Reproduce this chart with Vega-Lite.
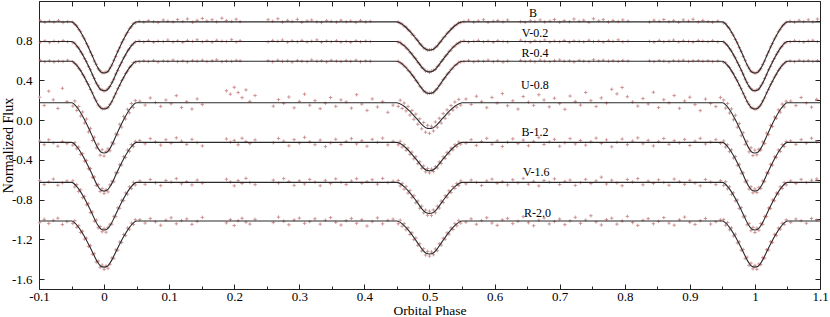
{
"$schema": "https://vega.github.io/schema/vega-lite/v6.json",
"width": 781, "height": 288,
"autosize": {"type": "none"},
"padding": {"left": 39, "top": 1, "right": 10, "bottom": 28},
"background": "#ffffff",
"config": {"view": {"stroke": "#222222", "strokeWidth": 1}, "font": "Liberation Serif",
 "text": {"font": "Liberation Serif"},
 "axis": {"labelFont": "Liberation Serif", "titleFont": "Liberation Serif", "labelColor": "#000000", "titleColor": "#000000", "titleFontWeight": "normal", "tickColor": "#222222", "grid": false, "domain": false, "labelFlush": false, "labelOverlap": false}},
"datasets": {
"clean": [
{"x":-0.098,"b":1.001,"v":0.786,"r":0.6},{"x":-0.091,"b":0.985,"v":0.798,"r":0.589},{"x":-0.084,"b":0.997,"v":0.781,"r":0.597},{"x":-0.077,"b":0.988,"v":0.795,"r":0.586},{"x":-0.07,"b":1.004,"v":0.789,"r":0.595},{"x":-0.063,"b":0.983,"v":0.801,"r":0.591},{"x":-0.056,"b":0.993,"v":0.79,"r":0.603},
{"x":-0.048,"b":0.986,"v":0.781,"r":0.589},{"x":-0.045,"b":0.965,"v":0.775,"r":0.571},{"x":-0.042,"b":0.949,"v":0.744,"r":0.556},{"x":-0.039,"b":0.914,"v":0.727,"r":0.523},{"x":-0.036,"b":0.891,"v":0.689,"r":0.502},{"x":-0.033,"b":0.848,"v":0.663,"r":0.461},{"x":-0.03,"b":0.819,"v":0.62,"r":0.434},{"x":-0.027,"b":0.771,"v":0.589,"r":0.389},{"x":-0.024,"b":0.738,"v":0.541,"r":0.358},{"x":-0.021,"b":0.686,"v":0.508,"r":0.309},{"x":-0.018,"b":0.649,"v":0.456,"r":0.275},{"x":-0.015,"b":0.595,"v":0.42,"r":0.224},{"x":-0.012,"b":0.562,"v":0.373,"r":0.194},{"x":-0.009,"b":0.518,"v":0.347,"r":0.152},{"x":-0.006,"b":0.499,"v":0.312,"r":0.134},{"x":-0.003,"b":0.477,"v":0.307,"r":0.114},{"x":0,"b":0.479,"v":0.293,"r":0.116},{"x":0.003,"b":0.485,"v":0.299,"r":0.122},{"x":0.006,"b":0.491,"v":0.32,"r":0.126},{"x":0.009,"b":0.526,"v":0.339,"r":0.16},{"x":0.012,"b":0.554,"v":0.381,"r":0.186},{"x":0.015,"b":0.603,"v":0.412,"r":0.232},{"x":0.018,"b":0.641,"v":0.464,"r":0.267},{"x":0.021,"b":0.694,"v":0.5,"r":0.317},{"x":0.024,"b":0.73,"v":0.549,"r":0.35},{"x":0.027,"b":0.779,"v":0.581,"r":0.397},{"x":0.03,"b":0.811,"v":0.628,"r":0.426},{"x":0.033,"b":0.856,"v":0.655,"r":0.469},{"x":0.036,"b":0.883,"v":0.697,"r":0.494},{"x":0.039,"b":0.922,"v":0.719,"r":0.531},{"x":0.042,"b":0.941,"v":0.752,"r":0.548},{"x":0.045,"b":0.973,"v":0.768,"r":0.579},{"x":0.048,"b":0.978,"v":0.788,"r":0.583},
{"x":0.054,"b":0.995,"v":0.797,"r":0.589},{"x":0.061,"b":0.987,"v":0.788,"r":0.598},{"x":0.068,"b":1.002,"v":0.801,"r":0.592},{"x":0.076,"b":0.991,"v":0.784,"r":0.601},{"x":0.083,"b":0.984,"v":0.795,"r":0.587},{"x":0.091,"b":1.008,"v":0.791,"r":0.596},{"x":0.098,"b":0.996,"v":0.806,"r":0.593},{"x":0.106,"b":0.989,"v":0.787,"r":0.605},{"x":0.113,"b":1.013,"v":0.798,"r":0.59},{"x":0.121,"b":0.993,"v":0.783,"r":0.597},{"x":0.128,"b":1.019,"v":0.802,"r":0.586},{"x":0.136,"b":0.986,"v":0.793,"r":0.6},{"x":0.143,"b":1.005,"v":0.809,"r":0.594},{"x":0.151,"b":1.024,"v":0.789,"r":0.603},{"x":0.158,"b":0.998,"v":0.799,"r":0.591},{"x":0.166,"b":1.011,"v":0.786,"r":0.598},{"x":0.173,"b":0.99,"v":0.804,"r":0.607},{"x":0.181,"b":1.027,"v":0.795,"r":0.589},{"x":0.188,"b":1.003,"v":0.792,"r":0.596},{"x":0.196,"b":0.994,"v":0.81,"r":0.592},{"x":0.203,"b":1.016,"v":0.788,"r":0.602},{"x":0.209,"b":0.992,"v":0.8,"r":0.597},
{"x":0.252,"b":1.012,"v":0.789,"r":0.599},{"x":0.259,"b":0.996,"v":0.801,"r":0.588},{"x":0.267,"b":1.021,"v":0.794,"r":0.603},{"x":0.274,"b":0.988,"v":0.806,"r":0.592},{"x":0.282,"b":1.004,"v":0.785,"r":0.597},{"x":0.289,"b":0.993,"v":0.798,"r":0.585},{"x":0.297,"b":1.015,"v":0.79,"r":0.601},{"x":0.304,"b":0.985,"v":0.803,"r":0.594},{"x":0.312,"b":0.999,"v":0.787,"r":0.59},{"x":0.319,"b":1.008,"v":0.795,"r":0.606},{"x":0.327,"b":0.99,"v":0.808,"r":0.593},{"x":0.334,"b":0.983,"v":0.784,"r":0.598},{"x":0.342,"b":1.002,"v":0.797,"r":0.587},{"x":0.349,"b":0.994,"v":0.791,"r":0.602},{"x":0.357,"b":0.987,"v":0.8,"r":0.595},{"x":0.364,"b":1.006,"v":0.786,"r":0.59},{"x":0.372,"b":0.991,"v":0.794,"r":0.599},{"x":0.379,"b":0.998,"v":0.783,"r":0.592},{"x":0.387,"b":0.984,"v":0.799,"r":0.604},{"x":0.394,"b":1.003,"v":0.789,"r":0.588},{"x":0.402,"b":0.989,"v":0.796,"r":0.596},{"x":0.409,"b":0.995,"v":0.792,"r":0.593},
{"x":0.452,"b":0.988,"v":0.784,"r":0.592},{"x":0.455,"b":0.975,"v":0.783,"r":0.578},{"x":0.458,"b":0.969,"v":0.761,"r":0.568},{"x":0.461,"b":0.946,"v":0.752,"r":0.545},{"x":0.464,"b":0.937,"v":0.727,"r":0.532},{"x":0.467,"b":0.91,"v":0.713,"r":0.503},{"x":0.47,"b":0.897,"v":0.684,"r":0.487},{"x":0.473,"b":0.867,"v":0.668,"r":0.455},{"x":0.476,"b":0.852,"v":0.636,"r":0.436},{"x":0.479,"b":0.82,"v":0.618,"r":0.4},{"x":0.482,"b":0.803,"v":0.583,"r":0.38},{"x":0.485,"b":0.769,"v":0.563,"r":0.342},{"x":0.488,"b":0.755,"v":0.532,"r":0.325},{"x":0.491,"b":0.727,"v":0.518,"r":0.294},{"x":0.494,"b":0.72,"v":0.494,"r":0.284},{"x":0.497,"b":0.704,"v":0.493,"r":0.268},{"x":0.5,"b":0.709,"v":0.482,"r":0.272},{"x":0.503,"b":0.711,"v":0.494,"r":0.275},{"x":0.506,"b":0.712,"v":0.502,"r":0.276},{"x":0.509,"b":0.735,"v":0.51,"r":0.302},{"x":0.512,"b":0.747,"v":0.54,"r":0.317},{"x":0.515,"b":0.777,"v":0.555,"r":0.35},{"x":0.518,"b":0.795,"v":0.591,"r":0.372},{"x":0.521,"b":0.828,"v":0.61,"r":0.408},{"x":0.524,"b":0.844,"v":0.644,"r":0.428},{"x":0.527,"b":0.875,"v":0.66,"r":0.462},{"x":0.53,"b":0.889,"v":0.692,"r":0.479},{"x":0.533,"b":0.918,"v":0.706,"r":0.511},{"x":0.536,"b":0.929,"v":0.735,"r":0.525},{"x":0.539,"b":0.954,"v":0.745,"r":0.552},{"x":0.542,"b":0.961,"v":0.769,"r":0.561},{"x":0.545,"b":0.983,"v":0.776,"r":0.585},{"x":0.548,"b":0.981,"v":0.791,"r":0.586},
{"x":0.553,"b":0.993,"v":0.798,"r":0.591},{"x":0.56,"b":1.006,"v":0.786,"r":0.6},{"x":0.568,"b":0.987,"v":0.794,"r":0.587},{"x":0.575,"b":0.999,"v":0.803,"r":0.596},{"x":0.583,"b":1.011,"v":0.789,"r":0.593},{"x":0.59,"b":0.984,"v":0.797,"r":0.604},{"x":0.598,"b":0.996,"v":0.784,"r":0.589},{"x":0.605,"b":1.003,"v":0.8,"r":0.598},{"x":0.613,"b":0.989,"v":0.792,"r":0.585},{"x":0.62,"b":1.008,"v":0.788,"r":0.595},{"x":0.64,"b":0.992,"v":0.805,"r":0.601},{"x":0.647,"b":0.985,"v":0.791,"r":0.592},{"x":0.655,"b":1.001,"v":0.784,"r":0.597},{"x":0.662,"b":0.994,"v":0.799,"r":0.588},{"x":0.67,"b":1.009,"v":0.793,"r":0.603},{"x":0.677,"b":0.988,"v":0.807,"r":0.594},{"x":0.685,"b":0.997,"v":0.787,"r":0.59},{"x":0.692,"b":1.014,"v":0.796,"r":0.599},{"x":0.7,"b":0.986,"v":0.79,"r":0.606},{"x":0.707,"b":1.002,"v":0.802,"r":0.593},{"x":0.715,"b":0.991,"v":0.785,"r":0.597},{"x":0.722,"b":1.018,"v":0.798,"r":0.586},{"x":0.73,"b":0.995,"v":0.794,"r":0.602},{"x":0.737,"b":1.006,"v":0.788,"r":0.595},{"x":0.745,"b":0.984,"v":0.804,"r":0.591},{"x":0.752,"b":1.021,"v":0.791,"r":0.608},{"x":0.76,"b":0.999,"v":0.797,"r":0.597},{"x":0.767,"b":1.012,"v":0.786,"r":0.603},{"x":0.775,"b":0.988,"v":0.801,"r":0.594},{"x":0.782,"b":1.004,"v":0.793,"r":0.599},{"x":0.79,"b":0.993,"v":0.808,"r":0.592},{"x":0.797,"b":1.009,"v":0.789,"r":0.601},{"x":0.805,"b":0.997,"v":0.795,"r":0.596},
{"x":0.838,"b":0.988,"v":0.794,"r":0.597},{"x":0.845,"b":1.007,"v":0.786,"r":0.59},{"x":0.853,"b":0.995,"v":0.803,"r":0.601},{"x":0.86,"b":1.013,"v":0.79,"r":0.594},{"x":0.868,"b":0.991,"v":0.797,"r":0.588},{"x":0.875,"b":1.002,"v":0.806,"r":0.599},{"x":0.883,"b":0.985,"v":0.788,"r":0.595},{"x":0.89,"b":1.009,"v":0.799,"r":0.603},{"x":0.898,"b":0.997,"v":0.793,"r":0.591},{"x":0.905,"b":1.016,"v":0.785,"r":0.597},{"x":0.913,"b":0.99,"v":0.802,"r":0.6},{"x":0.92,"b":1.004,"v":0.796,"r":0.593},{"x":0.928,"b":0.993,"v":0.791,"r":0.598},{"x":0.935,"b":0.986,"v":0.8,"r":0.59},{"x":0.943,"b":0.998,"v":0.789,"r":0.596},
{"x":0.952,"b":0.979,"v":0.789,"r":0.582},{"x":0.955,"b":0.972,"v":0.769,"r":0.578},{"x":0.958,"b":0.942,"v":0.751,"r":0.549},{"x":0.961,"b":0.921,"v":0.72,"r":0.53},{"x":0.964,"b":0.884,"v":0.696,"r":0.495},{"x":0.967,"b":0.855,"v":0.656,"r":0.468},{"x":0.97,"b":0.812,"v":0.627,"r":0.427},{"x":0.973,"b":0.778,"v":0.582,"r":0.396},{"x":0.976,"b":0.731,"v":0.548,"r":0.351},{"x":0.979,"b":0.693,"v":0.501,"r":0.316},{"x":0.982,"b":0.642,"v":0.463,"r":0.268},{"x":0.985,"b":0.602,"v":0.413,"r":0.231},{"x":0.988,"b":0.555,"v":0.38,"r":0.187},{"x":0.991,"b":0.525,"v":0.34,"r":0.159},{"x":0.994,"b":0.492,"v":0.319,"r":0.127},{"x":0.997,"b":0.484,"v":0.3,"r":0.121},{"x":1,"b":0.472,"v":0.295,"r":0.109},{"x":1.003,"b":0.478,"v":0.306,"r":0.115},{"x":1.006,"b":0.498,"v":0.313,"r":0.133},{"x":1.009,"b":0.519,"v":0.346,"r":0.153},{"x":1.012,"b":0.561,"v":0.374,"r":0.193},{"x":1.015,"b":0.596,"v":0.419,"r":0.225},{"x":1.018,"b":0.648,"v":0.457,"r":0.274},{"x":1.021,"b":0.687,"v":0.507,"r":0.31},{"x":1.024,"b":0.737,"v":0.542,"r":0.357},{"x":1.027,"b":0.772,"v":0.588,"r":0.39},{"x":1.03,"b":0.818,"v":0.621,"r":0.433},{"x":1.033,"b":0.849,"v":0.662,"r":0.462},{"x":1.036,"b":0.89,"v":0.69,"r":0.501},{"x":1.039,"b":0.915,"v":0.726,"r":0.524},{"x":1.042,"b":0.948,"v":0.745,"r":0.555},{"x":1.045,"b":0.966,"v":0.775,"r":0.572},{"x":1.048,"b":0.985,"v":0.781,"r":0.589},
{"x":1.054,"b":0.996,"v":0.789,"r":0.597},{"x":1.061,"b":0.986,"v":0.8,"r":0.589},{"x":1.068,"b":1.005,"v":0.793,"r":0.602},{"x":1.075,"b":0.992,"v":0.786,"r":0.594},{"x":1.082,"b":1.01,"v":0.798,"r":0.6},{"x":1.089,"b":0.989,"v":0.804,"r":0.591},{"x":1.096,"b":1.018,"v":0.791,"r":0.598}
],
"noisy": [
{"x":-0.099,"u":0.231,"b2":-0.21,"v2":-0.609,"r2":-1.032},{"x":-0.092,"u":0.148,"b2":-0.247,"v2":-0.648,"r2":-0.998},{"x":-0.085,"u":0.292,"b2":-0.198,"v2":-0.621,"r2":-1.041},{"x":-0.078,"u":0.205,"b2":-0.229,"v2":-0.593,"r2":-1.009},{"x":-0.071,"u":0.118,"b2":-0.262,"v2":-0.655,"r2":-0.987},{"x":-0.064,"u":0.321,"b2":-0.215,"v2":-0.631,"r2":-1.051},{"x":-0.057,"u":0.187,"b2":-0.236,"v2":-0.612,"r2":-1.022},
{"x":-0.048,"u":0.142,"b2":-0.251,"v2":-0.611,"r2":-1.041},{"x":-0.045,"u":0.193,"b2":-0.226,"v2":-0.672,"r2":-1.012},{"x":-0.042,"u":0.098,"b2":-0.288,"v2":-0.649,"r2":-1.079},{"x":-0.039,"u":0.137,"b2":-0.271,"v2":-0.718,"r2":-1.062},{"x":-0.036,"u":0.041,"b2":-0.346,"v2":-0.701,"r2":-1.131},{"x":-0.033,"u":0.082,"b2":-0.337,"v2":-0.781,"r2":-1.118},{"x":-0.03,"u":-0.029,"b2":-0.412,"v2":-0.768,"r2":-1.197},{"x":-0.027,"u":0.011,"b2":-0.405,"v2":-0.852,"r2":-1.188},{"x":-0.024,"u":-0.118,"b2":-0.49,"v2":-0.841,"r2":-1.271},{"x":-0.021,"u":-0.083,"b2":-0.487,"v2":-0.93,"r2":-1.263},{"x":-0.018,"u":-0.205,"b2":-0.575,"v2":-0.925,"r2":-1.349},{"x":-0.015,"u":-0.171,"b2":-0.571,"v2":-1.017,"r2":-1.345},{"x":-0.012,"u":-0.279,"b2":-0.657,"v2":-1.006,"r2":-1.428},{"x":-0.009,"u":-0.241,"b2":-0.648,"v2":-1.084,"r2":-1.419},{"x":-0.006,"u":-0.352,"b2":-0.718,"v2":-1.071,"r2":-1.481},{"x":-0.003,"u":-0.298,"b2":-0.689,"v2":-1.123,"r2":-1.459},{"x":0,"u":-0.361,"b2":-0.737,"v2":-1.092,"r2":-1.502},{"x":0.003,"u":-0.317,"b2":-0.701,"v2":-1.128,"r2":-1.468},{"x":0.006,"u":-0.289,"b2":-0.722,"v2":-1.079,"r2":-1.491},{"x":0.009,"u":-0.308,"b2":-0.651,"v2":-1.048,"r2":-1.451},{"x":0.012,"u":-0.227,"b2":-0.616,"v2":-1.047,"r2":-1.387},{"x":0.015,"u":-0.238,"b2":-0.619,"v2":-0.969,"r2":-1.391},{"x":0.018,"u":-0.139,"b2":-0.531,"v2":-0.971,"r2":-1.306},{"x":0.021,"u":-0.147,"b2":-0.528,"v2":-0.883,"r2":-1.309},{"x":0.024,"u":-0.041,"b2":-0.447,"v2":-0.887,"r2":-1.226},{"x":0.027,"u":-0.069,"b2":-0.451,"v2":-0.806,"r2":-1.232},{"x":0.03,"u":0.038,"b2":-0.368,"v2":-0.81,"r2":-1.151},{"x":0.033,"u":0.012,"b2":-0.377,"v2":-0.733,"r2":-1.162},{"x":0.036,"u":0.109,"b2":-0.301,"v2":-0.745,"r2":-1.086},{"x":0.039,"u":0.074,"b2":-0.314,"v2":-0.671,"r2":-1.099},{"x":0.042,"u":0.168,"b2":-0.245,"v2":-0.689,"r2":-1.037},{"x":0.045,"u":0.129,"b2":-0.266,"v2":-0.626,"r2":-1.051},{"x":0.048,"u":0.197,"b2":-0.214,"v2":-0.652,"r2":-1.003},
{"x":0.055,"u":0.191,"b2":-0.205,"v2":-0.612,"r2":-1.002},{"x":0.063,"u":0.152,"b2":-0.238,"v2":-0.646,"r2":-1.036},{"x":0.071,"u":0.224,"b2":-0.186,"v2":-0.598,"r2":-0.991},{"x":0.079,"u":0.178,"b2":-0.219,"v2":-0.631,"r2":-1.024},{"x":0.087,"u":0.139,"b2":-0.251,"v2":-0.659,"r2":-1.058},{"x":0.095,"u":0.203,"b2":-0.197,"v2":-0.607,"r2":-1.007},{"x":0.103,"u":0.165,"b2":-0.232,"v2":-0.625,"r2":-0.983},{"x":0.111,"u":0.247,"b2":-0.178,"v2":-0.589,"r2":-1.043},{"x":0.119,"u":0.128,"b2":-0.211,"v2":-0.641,"r2":-1.011},{"x":0.127,"u":0.186,"b2":-0.244,"v2":-0.618,"r2":-0.995},{"x":0.135,"u":0.112,"b2":-0.193,"v2":-0.652,"r2":-1.049},{"x":0.143,"u":0.214,"b2":-0.226,"v2":-0.603,"r2":-1.019},{"x":0.151,"u":0.157,"b2":-0.259,"v2":-0.634,"r2":-0.979},{"x":0.188,"u":0.296,"b2":-0.189,"v2":-0.595,"r2":-1.034},{"x":0.194,"u":0.262,"b2":-0.221,"v2":-0.622,"r2":-1.001},{"x":0.2,"u":0.331,"b2":-0.203,"v2":-0.661,"r2":-1.061},{"x":0.206,"u":0.278,"b2":-0.248,"v2":-0.609,"r2":-1.013},{"x":0.212,"u":0.227,"b2":-0.182,"v2":-0.637,"r2":-0.988},{"x":0.218,"u":0.305,"b2":-0.215,"v2":-0.586,"r2":-1.027},{"x":0.224,"u":0.189,"b2":-0.236,"v2":-0.628,"r2":-1.046},{"x":0.232,"u":0.248,"b2":-0.199,"v2":-0.649,"r2":-0.999},{"x":0.26,"u":0.141,"b2":-0.227,"v2":-0.604,"r2":-1.031},{"x":0.268,"u":0.207,"b2":-0.184,"v2":-0.633,"r2":-0.976},{"x":0.276,"u":0.169,"b2":-0.212,"v2":-0.588,"r2":-1.017},{"x":0.284,"u":0.233,"b2":-0.258,"v2":-0.617,"r2":-1.053},{"x":0.292,"u":0.124,"b2":-0.196,"v2":-0.656,"r2":-1.005},{"x":0.3,"u":0.189,"b2":-0.231,"v2":-0.611,"r2":-0.986},{"x":0.308,"u":0.262,"b2":-0.173,"v2":-0.642,"r2":-1.039},{"x":0.316,"u":0.151,"b2":-0.218,"v2":-0.597,"r2":-1.022},{"x":0.324,"u":0.197,"b2":-0.247,"v2":-0.624,"r2":-0.993},{"x":0.332,"u":0.116,"b2":-0.201,"v2":-0.66,"r2":-1.047},{"x":0.34,"u":0.171,"b2":-0.266,"v2":-0.606,"r2":-1.008},{"x":0.348,"u":0.228,"b2":-0.229,"v2":-0.639,"r2":-0.981},{"x":0.356,"u":0.139,"b2":-0.192,"v2":-0.591,"r2":-1.029},{"x":0.364,"u":0.204,"b2":-0.245,"v2":-0.627,"r2":-1.056},{"x":0.372,"u":0.183,"b2":-0.214,"v2":-0.648,"r2":-1.012},{"x":0.38,"u":0.121,"b2":-0.186,"v2":-0.613,"r2":-0.99},{"x":0.388,"u":0.256,"b2":-0.239,"v2":-0.59,"r2":-1.038},{"x":0.396,"u":0.162,"b2":-0.207,"v2":-0.635,"r2":-1.003},{"x":0.404,"u":0.098,"b2":-0.262,"v2":-0.619,"r2":-1.066},{"x":0.412,"u":0.214,"b2":-0.193,"v2":-0.6,"r2":-1.021},{"x":0.42,"u":0.133,"b2":-0.224,"v2":-0.644,"r2":-0.984},{"x":0.428,"u":0.187,"b2":-0.181,"v2":-0.587,"r2":-1.044},{"x":0.436,"u":0.079,"b2":-0.249,"v2":-0.629,"r2":-1.009},{"x":0.444,"u":0.151,"b2":-0.213,"v2":-0.615,"r2":-0.997},
{"x":0.452,"u":0.139,"b2":-0.248,"v2":-0.608,"r2":-1.043},{"x":0.455,"u":0.201,"b2":-0.213,"v2":-0.662,"r2":-1.007},{"x":0.458,"u":0.118,"b2":-0.271,"v2":-0.637,"r2":-1.068},{"x":0.461,"u":0.172,"b2":-0.246,"v2":-0.694,"r2":-1.041},{"x":0.464,"u":0.093,"b2":-0.303,"v2":-0.667,"r2":-1.104},{"x":0.467,"u":0.139,"b2":-0.281,"v2":-0.734,"r2":-1.083},{"x":0.47,"u":0.052,"b2":-0.344,"v2":-0.709,"r2":-1.151},{"x":0.473,"u":0.098,"b2":-0.322,"v2":-0.779,"r2":-1.133},{"x":0.476,"u":0.009,"b2":-0.389,"v2":-0.76,"r2":-1.203},{"x":0.479,"u":0.061,"b2":-0.368,"v2":-0.831,"r2":-1.187},{"x":0.482,"u":-0.041,"b2":-0.438,"v2":-0.814,"r2":-1.261},{"x":0.485,"u":0.013,"b2":-0.419,"v2":-0.887,"r2":-1.245},{"x":0.488,"u":-0.087,"b2":-0.485,"v2":-0.866,"r2":-1.317},{"x":0.491,"u":-0.024,"b2":-0.461,"v2":-0.933,"r2":-1.294},{"x":0.494,"u":-0.121,"b2":-0.521,"v2":-0.905,"r2":-1.358},{"x":0.497,"u":-0.052,"b2":-0.487,"v2":-0.958,"r2":-1.321},{"x":0.5,"u":-0.133,"b2":-0.531,"v2":-0.917,"r2":-1.369},{"x":0.503,"u":-0.061,"b2":-0.492,"v2":-0.961,"r2":-1.326},{"x":0.506,"u":-0.109,"b2":-0.517,"v2":-0.904,"r2":-1.355},{"x":0.509,"u":-0.018,"b2":-0.468,"v2":-0.932,"r2":-1.297},{"x":0.512,"u":-0.071,"b2":-0.481,"v2":-0.866,"r2":-1.315},{"x":0.515,"u":0.019,"b2":-0.421,"v2":-0.885,"r2":-1.244},{"x":0.518,"u":-0.029,"b2":-0.436,"v2":-0.815,"r2":-1.259},{"x":0.521,"u":0.066,"b2":-0.37,"v2":-0.829,"r2":-1.189},{"x":0.524,"u":0.018,"b2":-0.384,"v2":-0.761,"r2":-1.199},{"x":0.527,"u":0.104,"b2":-0.324,"v2":-0.776,"r2":-1.135},{"x":0.53,"u":0.062,"b2":-0.339,"v2":-0.711,"r2":-1.148},{"x":0.533,"u":0.147,"b2":-0.281,"v2":-0.729,"r2":-1.085},{"x":0.536,"u":0.101,"b2":-0.298,"v2":-0.668,"r2":-1.101},{"x":0.539,"u":0.183,"b2":-0.247,"v2":-0.688,"r2":-1.042},{"x":0.542,"u":0.131,"b2":-0.266,"v2":-0.637,"r2":-1.064},{"x":0.545,"u":0.209,"b2":-0.219,"v2":-0.657,"r2":-1.011},{"x":0.548,"u":0.152,"b2":-0.241,"v2":-0.612,"r2":-1.036},
{"x":0.556,"u":0.213,"b2":-0.231,"v2":-0.641,"r2":-1.027},{"x":0.564,"u":0.158,"b2":-0.197,"v2":-0.603,"r2":-0.994},{"x":0.572,"u":0.241,"b2":-0.254,"v2":-0.627,"r2":-1.048},{"x":0.58,"u":0.187,"b2":-0.215,"v2":-0.658,"r2":-1.011},{"x":0.588,"u":0.126,"b2":-0.183,"v2":-0.612,"r2":-0.982},{"x":0.596,"u":0.229,"b2":-0.242,"v2":-0.594,"r2":-1.036},{"x":0.604,"u":0.171,"b2":-0.208,"v2":-0.636,"r2":-1.059},{"x":0.612,"u":0.268,"b2":-0.265,"v2":-0.619,"r2":-1.004},{"x":0.62,"u":0.146,"b2":-0.222,"v2":-0.652,"r2":-0.989},{"x":0.628,"u":0.195,"b2":-0.188,"v2":-0.6,"r2":-1.042},{"x":0.636,"u":0.112,"b2":-0.236,"v2":-0.631,"r2":-1.018},{"x":0.644,"u":0.238,"b2":-0.201,"v2":-0.587,"r2":-0.972},{"x":0.652,"u":0.181,"b2":-0.257,"v2":-0.645,"r2":-1.033},{"x":0.66,"u":0.149,"b2":-0.214,"v2":-0.616,"r2":-1.063},{"x":0.668,"u":0.256,"b2":-0.176,"v2":-0.662,"r2":-1.008},{"x":0.676,"u":0.203,"b2":-0.245,"v2":-0.608,"r2":-0.985},{"x":0.684,"u":0.134,"b2":-0.219,"v2":-0.625,"r2":-1.045},{"x":0.692,"u":0.221,"b2":-0.193,"v2":-0.591,"r2":-1.021},{"x":0.7,"u":0.167,"b2":-0.262,"v2":-0.648,"r2":-0.996},{"x":0.708,"u":0.109,"b2":-0.228,"v2":-0.617,"r2":-1.052},{"x":0.716,"u":0.243,"b2":-0.186,"v2":-0.603,"r2":-1.014},{"x":0.724,"u":0.188,"b2":-0.239,"v2":-0.657,"r2":-0.978},{"x":0.732,"u":0.152,"b2":-0.205,"v2":-0.629,"r2":-1.039},{"x":0.74,"u":0.279,"b2":-0.251,"v2":-0.596,"r2":-1.006},{"x":0.748,"u":0.197,"b2":-0.217,"v2":-0.638,"r2":-0.962},{"x":0.756,"u":0.138,"b2":-0.181,"v2":-0.611,"r2":-1.025},{"x":0.764,"u":0.224,"b2":-0.234,"v2":-0.574,"r2":-1.055},{"x":0.772,"u":0.172,"b2":-0.199,"v2":-0.643,"r2":-1.001},{"x":0.78,"u":0.311,"b2":-0.268,"v2":-0.605,"r2":-0.987},{"x":0.788,"u":0.265,"b2":-0.223,"v2":-0.632,"r2":-1.047},{"x":0.796,"u":0.329,"b2":-0.19,"v2":-0.66,"r2":-1.016},{"x":0.804,"u":0.236,"b2":-0.247,"v2":-0.598,"r2":-0.969},{"x":0.812,"u":0.184,"b2":-0.211,"v2":-0.622,"r2":-1.031},{"x":0.82,"u":0.142,"b2":-0.178,"v2":-0.589,"r2":-1.06},{"x":0.828,"u":0.218,"b2":-0.238,"v2":-0.651,"r2":-1.009},{"x":0.836,"u":0.163,"b2":-0.203,"v2":-0.614,"r2":-0.992},{"x":0.844,"u":0.281,"b2":-0.259,"v2":-0.637,"r2":-1.043},{"x":0.852,"u":0.127,"b2":-0.216,"v2":-0.601,"r2":-1.019},{"x":0.86,"u":0.206,"b2":-0.185,"v2":-0.628,"r2":-0.981},{"x":0.868,"u":0.174,"b2":-0.243,"v2":-0.655,"r2":-1.037},{"x":0.876,"u":0.248,"b2":-0.207,"v2":-0.593,"r2":-1.057},{"x":0.884,"u":0.119,"b2":-0.229,"v2":-0.619,"r2":-1.003},{"x":0.892,"u":0.193,"b2":-0.194,"v2":-0.646,"r2":-0.976},{"x":0.9,"u":0.231,"b2":-0.255,"v2":-0.606,"r2":-1.028},{"x":0.908,"u":0.157,"b2":-0.212,"v2":-0.634,"r2":-1.05},{"x":0.916,"u":0.096,"b2":-0.183,"v2":-0.661,"r2":-1.012},{"x":0.924,"u":0.212,"b2":-0.24,"v2":-0.597,"r2":-0.99},{"x":0.932,"u":0.168,"b2":-0.221,"v2":-0.623,"r2":-1.046},{"x":0.94,"u":0.137,"b2":-0.196,"v2":-0.649,"r2":-1.023},{"x":0.947,"u":0.229,"b2":-0.233,"v2":-0.61,"r2":-1.004},
{"x":0.952,"u":0.203,"b2":-0.209,"v2":-0.658,"r2":-1.001},{"x":0.955,"u":0.121,"b2":-0.271,"v2":-0.62,"r2":-1.057},{"x":0.958,"u":0.167,"b2":-0.248,"v2":-0.691,"r2":-1.031},{"x":0.961,"u":0.072,"b2":-0.317,"v2":-0.671,"r2":-1.103},{"x":0.964,"u":0.113,"b2":-0.299,"v2":-0.748,"r2":-1.084},{"x":0.967,"u":0.004,"b2":-0.381,"v2":-0.731,"r2":-1.166},{"x":0.97,"u":0.049,"b2":-0.366,"v2":-0.812,"r2":-1.149},{"x":0.973,"u":-0.071,"b2":-0.455,"v2":-0.804,"r2":-1.236},{"x":0.976,"u":-0.034,"b2":-0.444,"v2":-0.89,"r2":-1.224},{"x":0.979,"u":-0.157,"b2":-0.536,"v2":-0.881,"r2":-1.31},{"x":0.982,"u":-0.126,"b2":-0.529,"v2":-0.974,"r2":-1.302},{"x":0.985,"u":-0.244,"b2":-0.62,"v2":-0.967,"r2":-1.394},{"x":0.988,"u":-0.213,"b2":-0.611,"v2":-1.053,"r2":-1.38},{"x":0.991,"u":-0.319,"b2":-0.693,"v2":-1.039,"r2":-1.461},{"x":0.994,"u":-0.278,"b2":-0.671,"v2":-1.112,"r2":-1.44},{"x":0.997,"u":-0.356,"b2":-0.731,"v2":-1.079,"r2":-1.497},{"x":1,"u":-0.302,"b2":-0.692,"v2":-1.131,"r2":-1.462},{"x":1.003,"u":-0.349,"b2":-0.728,"v2":-1.087,"r2":-1.501},{"x":1.006,"u":-0.292,"b2":-0.676,"v2":-1.109,"r2":-1.448},{"x":1.009,"u":-0.301,"b2":-0.688,"v2":-1.041,"r2":-1.455},{"x":1.012,"u":-0.219,"b2":-0.612,"v2":-1.049,"r2":-1.383},{"x":1.015,"u":-0.236,"b2":-0.617,"v2":-0.97,"r2":-1.389},{"x":1.018,"u":-0.131,"b2":-0.53,"v2":-0.969,"r2":-1.304},{"x":1.021,"u":-0.145,"b2":-0.532,"v2":-0.884,"r2":-1.307},{"x":1.024,"u":-0.052,"b2":-0.445,"v2":-0.889,"r2":-1.224},{"x":1.027,"u":-0.063,"b2":-0.453,"v2":-0.804,"r2":-1.231},{"x":1.03,"u":0.031,"b2":-0.369,"v2":-0.811,"r2":-1.15},{"x":1.033,"u":0.019,"b2":-0.376,"v2":-0.734,"r2":-1.161},{"x":1.036,"u":0.104,"b2":-0.3,"v2":-0.743,"r2":-1.087},{"x":1.039,"u":0.081,"b2":-0.315,"v2":-0.672,"r2":-1.098},{"x":1.042,"u":0.162,"b2":-0.246,"v2":-0.688,"r2":-1.038},{"x":1.045,"u":0.133,"b2":-0.265,"v2":-0.627,"r2":-1.05},{"x":1.048,"u":0.19,"b2":-0.215,"v2":-0.651,"r2":-1.004},
{"x":1.055,"u":0.192,"b2":-0.208,"v2":-0.611,"r2":-1.029},{"x":1.063,"u":0.147,"b2":-0.243,"v2":-0.638,"r2":-0.996},{"x":1.071,"u":0.228,"b2":-0.196,"v2":-0.597,"r2":-1.012},{"x":1.079,"u":0.173,"b2":-0.231,"v2":-0.629,"r2":-1.038},{"x":1.087,"u":0.131,"b2":-0.182,"v2":-0.605,"r2":-0.99},{"x":1.095,"u":0.209,"b2":-0.219,"v2":-0.592,"r2":-1.007}
],
"model": [
{"x":-0.1,"B":0.99,"V":0.792,"R":0.594,"U":0.176,"B2":-0.224,"V2":-0.626,"R2":-1.015},
{"x":-0.05,"B":0.99,"V":0.792,"R":0.594,"U":0.176,"B2":-0.224,"V2":-0.626,"R2":-1.015},
{"x":-0.04,"B":0.928,"V":0.733,"R":0.536,"U":0.115,"B2":-0.283,"V2":-0.684,"R2":-1.071},
{"x":-0.03,"B":0.815,"V":0.624,"R":0.43,"U":0.004,"B2":-0.391,"V2":-0.789,"R2":-1.173},
{"x":-0.02,"B":0.676,"V":0.49,"R":0.3,"U":-0.133,"B2":-0.523,"V2":-0.919,"R2":-1.299},
{"x":-0.01,"B":0.532,"V":0.351,"R":0.165,"U":-0.274,"B2":-0.66,"V2":-1.053,"R2":-1.429},
{"x":-0.005,"B":0.485,"V":0.307,"R":0.122,"U":-0.32,"B2":-0.704,"V2":-1.096,"R2":-1.471},
{"x":0,"B":0.475,"V":0.297,"R":0.112,"U":-0.33,"B2":-0.714,"V2":-1.106,"R2":-1.48},
{"x":0.005,"B":0.485,"V":0.307,"R":0.122,"U":-0.32,"B2":-0.704,"V2":-1.096,"R2":-1.471},
{"x":0.01,"B":0.532,"V":0.351,"R":0.165,"U":-0.274,"B2":-0.66,"V2":-1.053,"R2":-1.429},
{"x":0.02,"B":0.676,"V":0.49,"R":0.3,"U":-0.133,"B2":-0.523,"V2":-0.919,"R2":-1.299},
{"x":0.03,"B":0.815,"V":0.624,"R":0.43,"U":0.004,"B2":-0.391,"V2":-0.789,"R2":-1.173},
{"x":0.04,"B":0.928,"V":0.733,"R":0.536,"U":0.115,"B2":-0.283,"V2":-0.684,"R2":-1.071},
{"x":0.05,"B":0.99,"V":0.792,"R":0.594,"U":0.176,"B2":-0.224,"V2":-0.626,"R2":-1.015},
{"x":0.45,"B":0.99,"V":0.792,"R":0.594,"U":0.176,"B2":-0.224,"V2":-0.626,"R2":-1.015},
{"x":0.46,"B":0.956,"V":0.755,"R":0.555,"U":0.145,"B2":-0.258,"V2":-0.664,"R2":-1.055},
{"x":0.47,"B":0.893,"V":0.688,"R":0.483,"U":0.088,"B2":-0.321,"V2":-0.732,"R2":-1.128},
{"x":0.48,"B":0.816,"V":0.605,"R":0.395,"U":0.017,"B2":-0.398,"V2":-0.817,"R2":-1.218},
{"x":0.49,"B":0.736,"V":0.52,"R":0.304,"U":-0.055,"B2":-0.478,"V2":-0.905,"R2":-1.311},
{"x":0.495,"B":0.711,"V":0.492,"R":0.275,"U":-0.079,"B2":-0.503,"V2":-0.933,"R2":-1.34},
{"x":0.5,"B":0.705,"V":0.486,"R":0.268,"U":-0.084,"B2":-0.509,"V2":-0.939,"R2":-1.347},
{"x":0.505,"B":0.711,"V":0.492,"R":0.275,"U":-0.079,"B2":-0.503,"V2":-0.933,"R2":-1.34},
{"x":0.51,"B":0.736,"V":0.52,"R":0.304,"U":-0.055,"B2":-0.478,"V2":-0.905,"R2":-1.311},
{"x":0.52,"B":0.816,"V":0.605,"R":0.395,"U":0.017,"B2":-0.398,"V2":-0.817,"R2":-1.218},
{"x":0.53,"B":0.893,"V":0.688,"R":0.483,"U":0.088,"B2":-0.321,"V2":-0.732,"R2":-1.128},
{"x":0.54,"B":0.956,"V":0.755,"R":0.555,"U":0.145,"B2":-0.258,"V2":-0.664,"R2":-1.055},
{"x":0.55,"B":0.99,"V":0.792,"R":0.594,"U":0.176,"B2":-0.224,"V2":-0.626,"R2":-1.015},
{"x":0.95,"B":0.99,"V":0.792,"R":0.594,"U":0.176,"B2":-0.224,"V2":-0.626,"R2":-1.015},
{"x":0.96,"B":0.928,"V":0.733,"R":0.536,"U":0.115,"B2":-0.283,"V2":-0.684,"R2":-1.071},
{"x":0.97,"B":0.815,"V":0.624,"R":0.43,"U":0.004,"B2":-0.391,"V2":-0.789,"R2":-1.173},
{"x":0.98,"B":0.676,"V":0.49,"R":0.3,"U":-0.133,"B2":-0.523,"V2":-0.919,"R2":-1.299},
{"x":0.99,"B":0.532,"V":0.351,"R":0.165,"U":-0.274,"B2":-0.66,"V2":-1.053,"R2":-1.429},
{"x":0.995,"B":0.485,"V":0.307,"R":0.122,"U":-0.32,"B2":-0.704,"V2":-1.096,"R2":-1.471},
{"x":1,"B":0.475,"V":0.297,"R":0.112,"U":-0.33,"B2":-0.714,"V2":-1.106,"R2":-1.48},
{"x":1.005,"B":0.485,"V":0.307,"R":0.122,"U":-0.32,"B2":-0.704,"V2":-1.096,"R2":-1.471},
{"x":1.01,"B":0.532,"V":0.351,"R":0.165,"U":-0.274,"B2":-0.66,"V2":-1.053,"R2":-1.429},
{"x":1.02,"B":0.676,"V":0.49,"R":0.3,"U":-0.133,"B2":-0.523,"V2":-0.919,"R2":-1.299},
{"x":1.03,"B":0.815,"V":0.624,"R":0.43,"U":0.004,"B2":-0.391,"V2":-0.789,"R2":-1.173},
{"x":1.04,"B":0.928,"V":0.733,"R":0.536,"U":0.115,"B2":-0.283,"V2":-0.684,"R2":-1.071},
{"x":1.05,"B":0.99,"V":0.792,"R":0.594,"U":0.176,"B2":-0.224,"V2":-0.626,"R2":-1.015},
{"x":1.1,"B":0.99,"V":0.792,"R":0.594,"U":0.176,"B2":-0.224,"V2":-0.626,"R2":-1.015}
],
"labels": [
{"t":"B","x":0.659,"y":1.083},{"t":"V-0.2","x":0.662,"y":0.875},{"t":"R-0.4","x":0.662,"y":0.674},{"t":"U-0.8","x":0.662,"y":0.354},{"t":"B-1.2","x":0.662,"y":-0.116},{"t":"V-1.6","x":0.664,"y":-0.519},{"t":"R-2.0","x":0.666,"y":-0.938}
]
},
"resolve": {"axis": {"x": "independent", "y": "independent"}},
"layer": [
{
"data": {"name": "clean"},
"transform": [{"fold": ["b", "v", "r"], "as": ["s", "y"]}],
"mark": {"type": "point", "shape": "M-1,0H1M0,-1V1", "filled": false, "size": 12, "strokeWidth": 0.9, "color": "#c98c8c", "opacity": 1},
"encoding": {
"x": {"field": "x", "type": "quantitative", "scale": {"domain": [-0.1, 1.1], "nice": false, "zero": false},
 "axis": {"orient": "bottom", "values": [-0.1,0,0.1,0.2,0.3,0.4,0.5,0.6,0.7,0.8,0.9,1,1.1], "labelExpr": "abs(datum.value) < 1e-9 ? '0' : (abs(datum.value - 1) < 1e-9 ? '1' : (datum.value < 0 ? '-' : '') + format(abs(datum.value), '.1f'))", "tickSize": -5, "labelPadding": 6, "labelFontSize": 13, "labelFont": "Liberation Serif", "title": "Orbital Phase", "titleFont": "Liberation Serif", "titleFontSize": 13.5, "titleY": 25, "titleBaseline": "alphabetic"}},
"y": {"field": "y", "type": "quantitative", "scale": {"domain": [-1.7, 1.2], "nice": false, "zero": false},
 "axis": {"orient": "left", "values": [-1.6,-1.2,-0.8,-0.4,0,0.4,0.8], "labelExpr": "(datum.value < 0 ? '-' : '') + format(abs(datum.value), '.1f')", "tickSize": -5, "labelPadding": 12, "labelFontSize": 13, "labelFont": "Liberation Serif", "title": "Normalized Flux", "titleFont": "Liberation Serif", "titleFontSize": 14, "titleX": -31, "titleBaseline": "middle"}}
}
},
{
"data": {"name": "noisy"},
"transform": [{"fold": ["u", "b2", "v2", "r2"], "as": ["s", "y"]}],
"mark": {"type": "point", "shape": "M-1,0H1M0,-1V1", "filled": false, "size": 12, "strokeWidth": 0.9, "color": "#c98c8c", "opacity": 1},
"encoding": {
"x": {"field": "x", "type": "quantitative", "scale": {"domain": [-0.1, 1.1], "nice": false, "zero": false},
 "axis": {"orient": "bottom", "values": [-0.05,0.05,0.15,0.25,0.35,0.45,0.55,0.65,0.75,0.85,0.95,1.05], "labels": false, "tickSize": -3, "title": null}},
"y": {"field": "y", "type": "quantitative", "scale": {"domain": [-1.7, 1.2], "nice": false, "zero": false},
 "axis": {"orient": "right", "values": [-1.6,-1.4,-1.2,-1,-0.8,-0.6,-0.4,-0.2,0,0.2,0.4,0.6,0.8,1], "labels": false, "tickSize": -5, "title": null}}
}
},
{
"data": {"name": "model"},
"transform": [{"fold": ["B", "V", "R", "U", "B2", "V2", "R2"], "as": ["s", "y"]}],
"mark": {"type": "line", "interpolate": "monotone", "color": "#2a2a2a", "strokeWidth": 1.1},
"encoding": {
"x": {"field": "x", "type": "quantitative", "scale": {"domain": [-0.1, 1.1], "nice": false, "zero": false},
 "axis": {"orient": "top", "values": [-0.1,-0.05,0,0.05,0.1,0.15,0.2,0.25,0.3,0.35,0.4,0.45,0.5,0.55,0.6,0.65,0.7,0.75,0.8,0.85,0.9,0.95,1,1.05,1.1], "labels": false, "tickSize": -5, "title": null}},
"y": {"field": "y", "type": "quantitative", "scale": {"domain": [-1.7, 1.2], "nice": false, "zero": false}, "axis": null},
"detail": {"field": "s"}
}
},
{
"data": {"name": "labels"},
"mark": {"type": "text", "font": "Liberation Serif", "fontSize": 12, "align": "center", "baseline": "middle", "color": "#000000"},
"encoding": {
"x": {"field": "x", "type": "quantitative", "axis": null},
"y": {"field": "y", "type": "quantitative", "axis": null},
"text": {"field": "t"}
}
}
]
}
